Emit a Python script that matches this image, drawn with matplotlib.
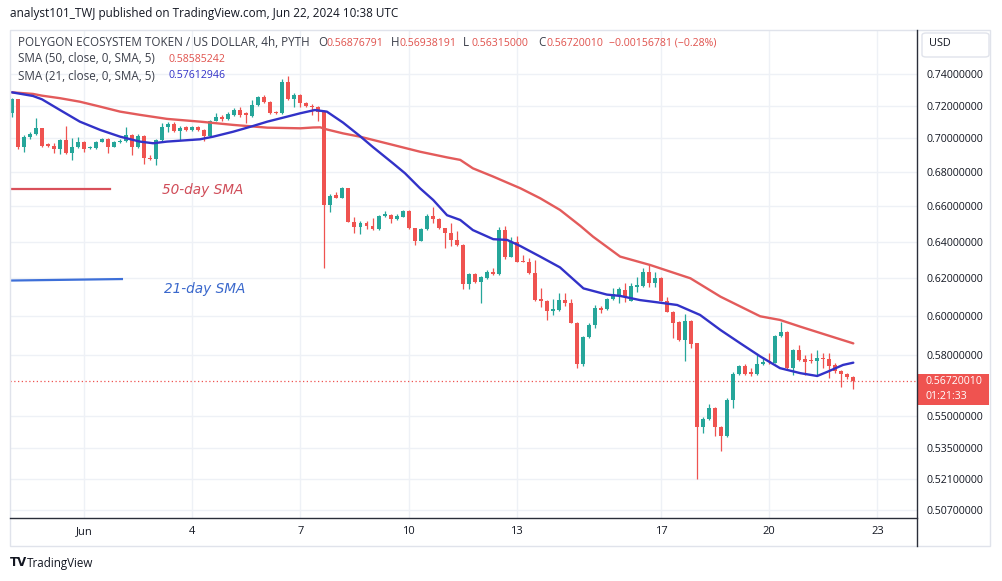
import numpy as np
import matplotlib.pyplot as plt
from matplotlib.lines import Line2D
from matplotlib.patches import Rectangle, FancyBboxPatch
from matplotlib.ticker import NullLocator

# =========================
# DATA  (4h candles, 30 May 00:00 -> 22 Jun 08:00)
# =========================
opens = [
    0.7157, 0.7241, 0.6950, 0.7006, 0.7026, 0.7061, 0.6964, 0.6952, 0.6938, 0.6990,
    0.6913, 0.6946, 0.6980, 0.6940, 0.6940, 0.6980, 0.6996, 0.6950, 0.6975, 0.6982,
    0.7020, 0.6946, 0.7014, 0.6884, 0.6874, 0.6990, 0.7067, 0.7088, 0.7046, 0.7067,
    0.7051, 0.7067, 0.7051, 0.7014, 0.7108, 0.7133, 0.7117, 0.7144, 0.7174, 0.7154,
    0.7137, 0.7205, 0.7254, 0.7222, 0.7164, 0.7154, 0.7353, 0.7241, 0.7268, 0.7216,
    0.7199, 0.7191, 0.7164, 0.6606, 0.6664, 0.6648, 0.6703, 0.6511, 0.6483, 0.6505,
    0.6487, 0.6468, 0.6543, 0.6549, 0.6525, 0.6539, 0.6574, 0.6474, 0.6405, 0.6468,
    0.6543, 0.6525, 0.6474, 0.6446, 0.6409, 0.6381, 0.6168, 0.6222, 0.6181, 0.6199,
    0.6235, 0.6222, 0.6462, 0.6317, 0.6399, 0.6294, 0.6289, 0.6226, 0.6087, 0.6080,
    0.6027, 0.6031, 0.6083, 0.6066, 0.5965, 0.5755, 0.5890, 0.5953, 0.6040, 0.6034,
    0.6087, 0.6110, 0.6137, 0.6080, 0.6154, 0.6158, 0.6235, 0.6172, 0.6199, 0.6080,
    0.6022, 0.5970, 0.5876, 0.5975, 0.5859, 0.5450, 0.5485, 0.5537, 0.5447, 0.5406,
    0.5578, 0.5705, 0.5745, 0.5716, 0.5705, 0.5755, 0.5771, 0.5761, 0.5897, 0.5918,
    0.5733, 0.5825, 0.5780, 0.5777, 0.5771, 0.5783, 0.5778, 0.5750, 0.5721, 0.5705,
    0.56876791,
]
highs = [
    0.7247, 0.7245, 0.7020, 0.7040, 0.7123, 0.7065, 0.6972, 0.6970, 0.6995, 0.7075,
    0.7000, 0.7010, 0.6985, 0.6954, 0.6984, 0.7004, 0.7000, 0.6982, 0.6994, 0.7071,
    0.7025, 0.7026, 0.7018, 0.6899, 0.6995, 0.7096, 0.7102, 0.7102, 0.7075, 0.7077,
    0.7075, 0.7075, 0.7057, 0.7112, 0.7157, 0.7144, 0.7162, 0.7187, 0.7191, 0.7164,
    0.7237, 0.7262, 0.7268, 0.7231, 0.7168, 0.7368, 0.7389, 0.7282, 0.7274, 0.7224,
    0.7212, 0.7199, 0.7174, 0.6670, 0.6683, 0.6712, 0.6705, 0.6539, 0.6515, 0.6515,
    0.6530, 0.6549, 0.6574, 0.6555, 0.6555, 0.6578, 0.6578, 0.6476, 0.6476, 0.6555,
    0.6596, 0.6530, 0.6477, 0.6505, 0.6460, 0.6387, 0.6227, 0.6227, 0.6211, 0.6244,
    0.6253, 0.6480, 0.6487, 0.6427, 0.6431, 0.6325, 0.6308, 0.6298, 0.6146, 0.6083,
    0.6089, 0.6122, 0.6122, 0.6087, 0.5968, 0.5896, 0.5965, 0.6057, 0.6052, 0.6095,
    0.6146, 0.6151, 0.6175, 0.6172, 0.6204, 0.6253, 0.6271, 0.6235, 0.6204, 0.6101,
    0.6026, 0.5974, 0.6010, 0.5979, 0.5863, 0.5496, 0.5558, 0.5544, 0.5453, 0.5587,
    0.5715, 0.5752, 0.5755, 0.5733, 0.5805, 0.5788, 0.5808, 0.5902, 0.5970, 0.5922,
    0.5830, 0.5850, 0.5800, 0.5808, 0.5825, 0.5811, 0.5811, 0.5761, 0.5725, 0.5710,
    0.56938191,
]
lows = [
    0.7129, 0.6934, 0.6919, 0.6998, 0.7020, 0.6950, 0.6945, 0.6909, 0.6903, 0.6905,
    0.6870, 0.6944, 0.6919, 0.6936, 0.6934, 0.6975, 0.6913, 0.6945, 0.6970, 0.6978,
    0.6899, 0.6942, 0.6845, 0.6870, 0.6840, 0.6985, 0.7040, 0.7040, 0.6990, 0.7045,
    0.7045, 0.7045, 0.6985, 0.7008, 0.7106, 0.7106, 0.7112, 0.7137, 0.7133, 0.7096,
    0.7131, 0.7199, 0.7218, 0.7152, 0.7148, 0.7148, 0.7237, 0.7195, 0.7195, 0.7193,
    0.7144, 0.7108, 0.6253, 0.6568, 0.6644, 0.6647, 0.6509, 0.6446, 0.6442, 0.6470,
    0.6464, 0.6464, 0.6539, 0.6505, 0.6521, 0.6537, 0.6470, 0.6381, 0.6401, 0.6464,
    0.6505, 0.6470, 0.6362, 0.6375, 0.6375, 0.6140, 0.6140, 0.6174, 0.6069, 0.6194,
    0.6219, 0.6216, 0.6304, 0.6313, 0.6285, 0.6285, 0.6222, 0.6080, 0.6046, 0.5979,
    0.6005, 0.6028, 0.6052, 0.5961, 0.5733, 0.5745, 0.5886, 0.5935, 0.6017, 0.6031,
    0.6083, 0.6066, 0.6074, 0.6078, 0.6127, 0.6153, 0.6154, 0.6154, 0.6076, 0.6018,
    0.5884, 0.5871, 0.5771, 0.5834, 0.5210, 0.5422, 0.5482, 0.5405, 0.5337, 0.5402,
    0.5537, 0.5700, 0.5700, 0.5695, 0.5700, 0.5752, 0.5755, 0.5760, 0.5891, 0.5730,
    0.5700, 0.5770, 0.5700, 0.5761, 0.5700, 0.5733, 0.5684, 0.5711, 0.5639, 0.5680,
    0.56315000,
]
closes = [
    0.7241, 0.6950, 0.7006, 0.7026, 0.7061, 0.6954, 0.6952, 0.6938, 0.6990, 0.6913,
    0.6946, 0.6980, 0.6934, 0.6945, 0.6980, 0.6996, 0.6950, 0.6976, 0.6982, 0.7020,
    0.6946, 0.7014, 0.6880, 0.6874, 0.6990, 0.7067, 0.7088, 0.7046, 0.7061, 0.7051,
    0.7067, 0.7051, 0.7014, 0.7108, 0.7129, 0.7117, 0.7150, 0.7174, 0.7144, 0.7144,
    0.7205, 0.7254, 0.7222, 0.7157, 0.7154, 0.7353, 0.7241, 0.7268, 0.7216, 0.7199,
    0.7191, 0.7164, 0.6606, 0.6660, 0.6648, 0.6703, 0.6511, 0.6483, 0.6505, 0.6487,
    0.6468, 0.6543, 0.6555, 0.6525, 0.6543, 0.6574, 0.6474, 0.6405, 0.6468, 0.6543,
    0.6525, 0.6474, 0.6446, 0.6409, 0.6381, 0.6168, 0.6222, 0.6181, 0.6205, 0.6233,
    0.6222, 0.6462, 0.6313, 0.6399, 0.6289, 0.6289, 0.6226, 0.6083, 0.6080, 0.6027,
    0.6034, 0.6083, 0.6066, 0.5965, 0.5755, 0.5890, 0.5953, 0.6040, 0.6031, 0.6087,
    0.6115, 0.6140, 0.6098, 0.6158, 0.6163, 0.6235, 0.6172, 0.6199, 0.6080, 0.6022,
    0.5965, 0.5876, 0.5975, 0.5855, 0.5450, 0.5485, 0.5537, 0.5447, 0.5406, 0.5578,
    0.5705, 0.5745, 0.5705, 0.5705, 0.5755, 0.5766, 0.5765, 0.5897, 0.5918, 0.5733,
    0.5825, 0.5775, 0.5766, 0.5772, 0.5783, 0.5778, 0.5745, 0.5720, 0.5705, 0.5688,
    0.56720010,
]

# SMA lines (candle index, value)
sma50_idx = [0, 3.5, 5, 8, 11.3, 14.7, 18, 21.3, 25.8, 31.3, 36.8, 42.5, 48, 50.1,
             51.3, 52.4, 55.1, 57.9, 60.1, 63.4, 67.9, 72.4, 74.6, 76.7, 80.1, 82.4,
             84.6, 87.9, 91.2, 94.6, 96.7, 101.2, 106.2, 112.9, 117.9, 124.5, 127.8,
             131.2, 135.7, 140]
sma50_val = [0.7285, 0.7275, 0.7264, 0.7248, 0.7226, 0.7195, 0.7164, 0.7144, 0.7119,
             0.7102, 0.7082, 0.7065, 0.7061, 0.7066, 0.7067, 0.7054, 0.7030, 0.7010,
             0.6990, 0.6960, 0.6919, 0.6885, 0.6870, 0.6820, 0.6771, 0.6736, 0.6703,
             0.6645, 0.6578, 0.6487, 0.6427, 0.6317, 0.6271, 0.6199, 0.6101, 0.5998,
             0.5979, 0.5944, 0.5900, 0.58585242]

sma21_idx = [0, 3.5, 5, 8, 11.3, 14.7, 18, 21.3, 23.5, 25.8, 31.3, 33.5, 36.8, 40.1,
             42.5, 45.8, 48, 50.4, 52.4, 55.1, 57.9, 60.1, 63.4, 65.4, 67.9, 70.1,
             72.4, 74.6, 76.7, 80.1, 82.4, 84.6, 87.9, 91.2, 95.1, 99, 101.2, 104.5,
             107.9, 110.7, 114.5, 117.9, 121.2, 124.5, 127.8, 131.2, 134, 135.7,
             138.3, 140]
sma21_val = [0.7285, 0.7262, 0.7241, 0.7174, 0.7102, 0.7051, 0.7010, 0.6980, 0.6970,
             0.6980, 0.6994, 0.7010, 0.7040, 0.7075, 0.7102, 0.7133, 0.7154, 0.7174,
             0.7164, 0.7096, 0.7014, 0.6946, 0.6850, 0.6791, 0.6703, 0.6635, 0.6548,
             0.6521, 0.6464, 0.6413, 0.6409, 0.6375, 0.6317, 0.6258, 0.6145, 0.6112,
             0.6105, 0.6083, 0.6069, 0.6057, 0.6005, 0.5927, 0.5859, 0.5793, 0.5734,
             0.5709, 0.5695, 0.5716, 0.5750, 0.57612946]

price_ticks = [0.74, 0.72, 0.70, 0.68, 0.66, 0.64, 0.62, 0.60, 0.58,
               0.55, 0.535, 0.521, 0.507]
date_idx = [12, 30, 48, 66, 84, 108, 126, 144]
date_labels = ["Jun", "4", "7", "10", "13", "17", "20", "23"]

# =========================
# STYLE
# =========================
W, H = 1003, 581
BULL = "#26a69a"
BEAR = "#ef5350"
SMA50_C = "#e35b5b"
SMA21_C = "#3232c8"
TXT = "#131722"
GRID = "#eef1f6"

plt.rcParams["font.family"] = ["Open Sans", "DejaVu Sans"]


def fx(x):
    return x / W


def fy(y):
    return 1 - y / H


# =========================
# PLOT
# =========================
fig = plt.figure(figsize=(W / 100, H / 100), dpi=100)
fig.patch.set_facecolor("white")
ax = fig.add_axes([fx(10), fy(518), (917 - 10) / W, (518 - 30) / H])

ax.set_yscale("log")
ax.set_ylim(0.50346, 0.7690)
ax.set_xlim(-0.32, 150.6)

idx = np.arange(len(opens))
o = np.array(opens)
hi = np.array(highs)
lo = np.array(lows)
c = np.array(closes)
colors = np.where(c >= o, BULL, BEAR)

ax.vlines(idx, lo, hi, colors=colors, linewidth=0.9, zorder=3)
body_lo = np.minimum(o, c)
body_hi = np.maximum(np.maximum(o, c), body_lo * 1.0008)
ax.bar(idx, body_hi - body_lo, bottom=body_lo, width=0.66, color=colors,
       linewidth=0, zorder=4)

ax.plot(sma50_idx, sma50_val, color=SMA50_C, lw=1.7, zorder=5,
        solid_capstyle="round", solid_joinstyle="round")
ax.plot(sma21_idx, sma21_val, color=SMA21_C, lw=1.7, zorder=5,
        solid_capstyle="round", solid_joinstyle="round")

# last price dotted line
ax.axhline(closes[-1], color=BEAR, lw=0.9, ls=(0, (1, 2)), zorder=2)

# hand-drawn annotations
ax.plot([-0.3, 16.3], [0.6701, 0.6701], color="#d9505a", lw=1.6, zorder=5)
ax.plot([-0.3, 18.3], [0.6187, 0.6195], color="#3d6fd8", lw=1.6, zorder=5)
ax.text(25, 0.6693, "50-day SMA", color="#d04c58", fontsize=9.8,
        style="italic", family="DejaVu Sans", va="center", ha="left")
ax.text(25.3, 0.6142, "21-day SMA", color="#3a68cc", fontsize=9.8,
        style="italic", family="DejaVu Sans", va="center", ha="left")

# axes / grid
ax.yaxis.set_minor_locator(NullLocator())
ax.set_yticks(price_ticks)
ax.set_yticklabels([f"{v:.8f}" for v in price_ticks])
ax.yaxis.tick_right()
ax.set_xticks(date_idx)
ax.set_xticklabels(date_labels)
ax.tick_params(axis="y", length=0, pad=6.5, labelsize=7.6, labelcolor=TXT)
ax.tick_params(axis="x", length=0, pad=6, labelsize=8, labelcolor=TXT)
ax.grid(True, color=GRID, lw=1, zorder=0)
for s in ax.spines.values():
    s.set_visible(False)

# panel frame and axis lines
fig.add_artist(Rectangle((fx(10), fy(546)), fx(980), (546 - 30) / H,
                         fill=False, edgecolor="#e0e3eb", lw=1))
fig.add_artist(Line2D([fx(917), fx(917)], [fy(30), fy(546)], color="#2a2e39", lw=1))
fig.add_artist(Line2D([fx(10), fx(917)], [fy(518), fy(518)], color="#2a2e39", lw=1))

# USD box
fig.add_artist(FancyBboxPatch((fx(922), fy(57)), (989 - 922) / W, 24 / H,
                              boxstyle="round,pad=0,rounding_size=0.004",
                              facecolor="white", edgecolor="#e0e3eb", lw=1))
fig.text(fx(929), fy(44), "USD", fontsize=7.8, color=TXT, va="center")

# last price tag
fig.canvas.draw()
py = H - ax.transData.transform((0, closes[-1]))[1]
fig.add_artist(Rectangle((fx(917), fy(py + 24)), 72 / W, 31 / H,
                         facecolor=BEAR, edgecolor="none"))
fig.text(fx(926), fy(py + 0.7), f"{closes[-1]:.8f}", fontsize=7.6,
         color="white", va="center")
fig.text(fx(926), fy(py + 15.7), "01:21:33", fontsize=7.6,
         color="white", va="center")

# header text
fig.text(fx(10), fy(14), "analyst101_TWJ published on TradingView.com, Jun 22, 2024 10:38 UTC",
         fontsize=8.5, color=TXT, va="center")

hdr = 8.4
val_fs = 7.6
fig.text(fx(18), fy(43), "POLYGON ECOSYSTEM TOKEN / US DOLLAR, 4h, PYTH",
         fontsize=hdr, color="#3b3f4a", va="center")
for x, label, val in [(318, "O", "0.56876791"), (391, "H", "0.56938191"),
                      (463, "L", "0.56315000"), (538, "C", "0.56720010")]:
    fig.text(fx(x), fy(43), label, fontsize=hdr, color="#3b3f4a", va="center")
    fig.text(fx(x + 9), fy(43), val, fontsize=val_fs, color="#e0524d", va="center")
fig.text(fx(609), fy(43), "\u22120.00156781 (\u22120.28%)", fontsize=val_fs,
         color="#e0524d", va="center")

fig.text(fx(18), fy(59), "SMA (50, close, 0, SMA, 5)", fontsize=hdr,
         color="#3b3f4a", va="center")
fig.text(fx(169), fy(59), "0.58585242", fontsize=val_fs, color="#e0524d", va="center")
fig.text(fx(18), fy(76), "SMA (21, close, 0, SMA, 5)", fontsize=hdr,
         color="#3b3f4a", va="center")
fig.text(fx(169), fy(76), "0.57612946", fontsize=val_fs, color=SMA21_C, va="center")

# TradingView footer
fig.text(fx(10), fy(563), "TV", fontsize=8.5, fontweight="heavy",
         color=TXT, va="center", family="DejaVu Sans")
fig.text(fx(27), fy(563), "TradingView", fontsize=8.4, color=TXT, va="center")

fig.savefig("out.png", dpi=100)
